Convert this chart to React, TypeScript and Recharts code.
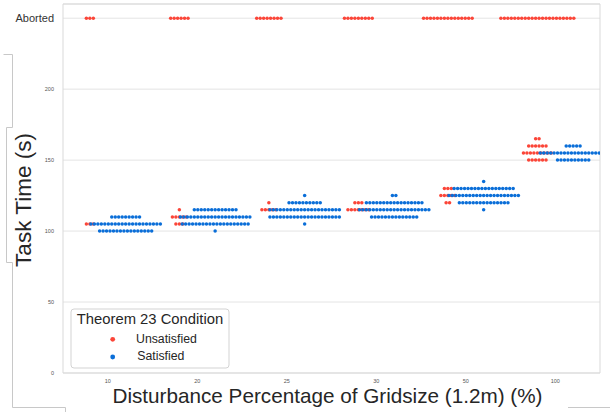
import { ScatterChart, Scatter, XAxis, YAxis, CartesianGrid, Legend, ReferenceArea } from 'recharts';

const categories = ['10', '20', '25', '30', '50', '100'];
const yTicks = [0, 50, 100, 150, 200, 250];
const ABORTED = 250;
const legendOrder = ['Unsatisfied', 'Satisfied'];

// [disturbance %, task time (s), number of runs at that time]
const unsatisfiedRuns: [string, number, number][] = [
  ['10', ABORTED, 3], ['10', 105, 3],
  ['20', ABORTED, 6], ['20', 115, 1], ['20', 110, 5], ['20', 105, 3],
  ['25', ABORTED, 8], ['25', 120, 1], ['25', 115, 5],
  ['30', ABORTED, 9], ['30', 120, 3], ['30', 115, 7],
  ['50', ABORTED, 15], ['50', 130, 3], ['50', 125, 5], ['50', 120, 2],
  ['100', ABORTED, 22], ['100', 165, 2], ['100', 160, 6], ['100', 155, 9], ['100', 150, 6],
];

const satisfiedRuns: [string, number, number][] = [
  ['10', 110, 9], ['10', 105, 21], ['10', 100, 16],
  ['20', 115, 13], ['20', 110, 21], ['20', 105, 20], ['20', 100, 1],
  ['25', 125, 1], ['25', 120, 10], ['25', 115, 21], ['25', 110, 21], ['25', 105, 1],
  ['30', 125, 2], ['30', 120, 17], ['30', 115, 21], ['30', 110, 14],
  ['50', 135, 1], ['50', 130, 18], ['50', 125, 21], ['50', 120, 15], ['50', 115, 1],
  ['100', 160, 5], ['100', 155, 20], ['100', 150, 10],
];

const RED = '#fb4538';
const BLUE = '#0a6ed8';
const FONT = "'Liberation Sans', Arial, sans-serif";
const DODGE = 0.2;
const STEP = 0.0388; // swarm spacing, in category units

// lay each row of equal times out side by side around the dodged category centre
function swarm(runs: [string, number, number][], dodge: number) {
  const pts: { x: number; y: number }[] = [];
  runs.forEach(([cat, time, n]) => {
    const base = categories.indexOf(cat) + dodge;
    for (let k = 0; k < n; k++) {
      pts.push({ x: base + (k - (n - 1) / 2) * STEP, y: time });
    }
  });
  return pts;
}

const redPoints = swarm(unsatisfiedRuns, -DODGE);
const bluePoints = swarm(satisfiedRuns, DODGE);

const Dot = (props: any) => <circle cx={props.cx} cy={props.cy} r={1.75} fill={props.fill} />;

const YTick = ({ x, y, payload }: any) =>
  payload.value === ABORTED ? (
    <text x={x - 9} y={y} dy={4} textAnchor="end" fontSize={11} fill="#333" fontFamily={FONT}>Aborted</text>
  ) : (
    <text x={x - 9} y={y} dy={2} textAnchor="end" fontSize={5.5} fill="#555" fontFamily={FONT}>{payload.value}</text>
  );

const XTick = ({ x, y, payload }: any) => (
  <text x={x} y={y} dy={9.5} textAnchor="middle" fontSize={5.5} fill="#555" fontFamily={FONT}>
    {categories[payload.value]}
  </text>
);

const renderLegend = (props: any) => {
  const items = [...(props.payload || [])].sort(
    (a: any, b: any) => legendOrder.indexOf(a.value) - legendOrder.indexOf(b.value)
  );
  return (
    <svg width={160} height={61} style={{ display: 'block' }}>
      <rect x={1} y={1} width={158} height={59} rx={3} fill="#fff" stroke="#d3d3d3" />
      <text x={80} y={16} textAnchor="middle" fontSize={14.8} fill="#262626" fontFamily={FONT}>Theorem 23 Condition</text>
      {items.map((item: any, i: number) => (
        <g key={item.value}>
          <circle cx={42.7} cy={31.3 + i * 17.7} r={2.4} fill={item.color} />
          <text x={66 + i * 1.2} y={35.3 + i * 17} fontSize={12.3} fill="#262626" fontFamily={FONT}>{item.value}</text>
        </g>
      ))}
    </svg>
  );
};

export default function App() {
  return (
    <div style={{ position: 'absolute', left: 0, top: 0, width: 610, height: 412, background: '#fff' }}>
      <ScatterChart width={610} height={412} margin={{ top: 4, right: 10, left: 0, bottom: 0 }}>
        <CartesianGrid vertical={false} stroke="#e4e4e4" />
        <XAxis
          type="number"
          dataKey="x"
          domain={[-0.5, 5.5]}
          ticks={[0, 1, 2, 3, 4, 5]}
          allowDataOverflow
          height={39}
          tickSize={0}
          tickMargin={0}
          axisLine={false}
          tick={<XTick />}
        />
        <YAxis
          type="number"
          dataKey="y"
          domain={[0, 260]}
          ticks={yTicks}
          allowDataOverflow
          width={63}
          tickSize={0}
          tickMargin={0}
          axisLine={false}
          tick={<YTick />}
        />
        <ReferenceArea x1={-0.5} x2={5.5} y1={0} y2={260} fill="none" stroke="#d9d9d9" />
        <Scatter name="Unsatisfied" data={redPoints} fill={RED} shape={Dot} isAnimationActive={false} />
        <Scatter name="Satisfied" data={bluePoints} fill={BLUE} shape={Dot} isAnimationActive={false} />
        <Legend
          layout="horizontal"
          verticalAlign="middle"
          align="center"
          content={renderLegend}
          wrapperStyle={{ position: 'absolute', left: 70, top: 308, width: 160, height: 61 }}
        />
      </ScatterChart>
      <svg width={610} height={412} style={{ position: 'absolute', left: 0, top: 0, pointerEvents: 'none' }}>
        <text x={31} y={200} transform="rotate(-90 31 200)" textAnchor="middle" fontSize={22.5} fill="#262626" fontFamily={FONT}>
          Task Time (s)
        </text>
        <text x={327.5} y={403} textAnchor="middle" fontSize={20.7} fill="#262626" fontFamily={FONT}>
          Disturbance Percentage of Gridsize (1.2m) (%)
        </text>
        <path d="M3.5,54.5 H12.5 V127.5 H6.5 V262.5 H12.5 V407.5 H65.5 V412" fill="none" stroke="#c8c8c8" />
        <path d="M568,407.5 H610" fill="none" stroke="#c8c8c8" />
      </svg>
    </div>
  );
}
